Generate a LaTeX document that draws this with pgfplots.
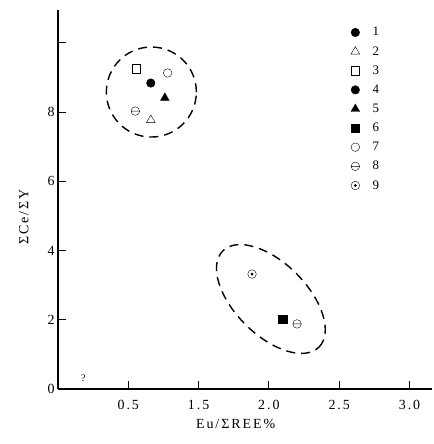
\documentclass[border=0pt]{standalone}
\usepackage{fontspec}
\setmainfont{Liberation Serif}
\newfontfamily\lsp[LetterSpace=14]{Liberation Serif}
\usepackage{pgfplots}
\pgfplotsset{compat=1.18}

\pgfdeclareplotmark{ominus}{%
  \pgfpathcircle{\pgfpoint{0pt}{0pt}}{\pgfplotmarksize}
  \pgfpathmoveto{\pgfpoint{-\pgfplotmarksize}{0pt}}
  \pgfpathlineto{\pgfpoint{\pgfplotmarksize}{0pt}}
  \pgfusepathqstroke}
\pgfdeclareplotmark{odot}{%
  \pgfpathcircle{\pgfpoint{0pt}{0pt}}{\pgfplotmarksize}
  \pgfusepathqstroke
  \pgfpathcircle{\pgfpoint{0pt}{0pt}}{0.35\pgfplotmarksize}
  \pgfusepathqfill}

\begin{document}
\begin{tikzpicture}
\begin{axis}[
    scale only axis,
    width=374bp, height=379bp,
    xmin=0, xmax=2.66,
    ymin=0, ymax=10.95,
    axis lines=left,
    axis line style={-, line width=1.4pt},
    tick align=inside,
    major tick length=8bp,
    tick style={line width=1pt, black},
    xtick={0.5,1,1.5,2,2.5},
    xticklabels={0.5,1.5,2.0,2.5,3.0},
    ytick={0,2,4,6,8,10},
    yticklabels={0,2,4,6,8,{}},
    tick label style={font=\lsp\fontsize{14}{15}\selectfont},
    xticklabel style={yshift=-8bp},
    label style={font=\lsp\fontsize{14}{15}\selectfont},
    /pgf/number format/assume math mode=true,
    xlabel={Eu/ΣREE\%},
    ylabel={ΣCe/ΣY},
    xlabel style={at={(rel axis cs:0.475,0)}, anchor=north, yshift=-27bp},
    ylabel style={at={(rel axis cs:0,0.454)}, anchor=south, rotate=0, yshift=26bp},
    mark size=4.3pt,
    every mark/.append style={line width=1.1pt},
    legend cell align=left,
    legend style={draw=none, fill=none, at={(rel axis cs:0.775,0.965)},
        anchor=north west, row sep=5.1bp,
        font=\fontsize{13}{13}\selectfont},
]
\addlegendimage{only marks, mark=*, black}
\addplot[only marks, mark=triangle, black, mark size=5pt] coordinates {(0.66,7.77)};
\addplot[only marks, mark=square, black] coordinates {(0.557,9.25)};
\addplot[only marks, mark=*, black] coordinates {(0.66,8.84)};
\addplot[only marks, mark=triangle*, black, mark size=5pt] coordinates {(0.76,8.41)};
\addplot[only marks, mark=square*, black] coordinates {(1.60,2.02)};
\addplot[only marks, mark=o, black] coordinates {(0.78,9.13)};
\addplot[only marks, mark=ominus, black] coordinates {(0.55,8.03) (1.70,1.88)};
\addplot[only marks, mark=odot, black] coordinates {(1.38,3.32)};
\legend{\hspace{11bp}1,\hspace{11bp}2,\hspace{11bp}3,\hspace{11bp}4,\hspace{11bp}5,\hspace{11bp}6,\hspace{11bp}7,\hspace{11bp}8,\hspace{11bp}9}

\draw[dash pattern=on 9bp off 6bp, line width=1.4pt]
  (axis cs:0.664,8.58) circle [radius=45bp];
\draw[dash pattern=on 9bp off 6bp, line width=1.4pt]
  (axis cs:1.514,2.60) ellipse [x radius=68bp, y radius=36bp, rotate=-45];
\node[font=\fontsize{10}{11}\selectfont] at (axis cs:0.18,0.3) {?};
\end{axis}
\path (current axis.south west) ++(-58bp,-55bp) rectangle ++(434bp,444bp);
\end{tikzpicture}
\end{document}
